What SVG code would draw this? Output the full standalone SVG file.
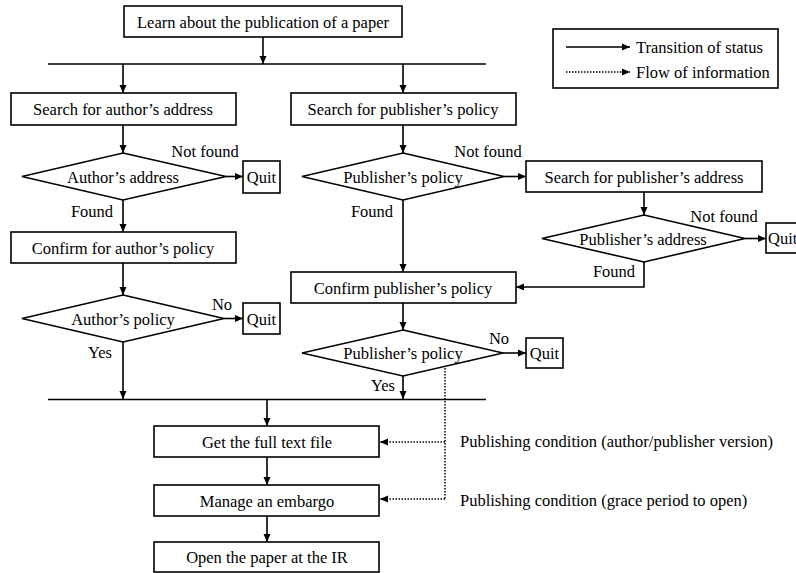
<svg xmlns="http://www.w3.org/2000/svg" width="796" height="573" viewBox="0 0 796 573" font-family="'Liberation Serif', 'Times New Roman', 'DejaVu Serif', serif">
<defs>
<marker id="ah" markerUnits="userSpaceOnUse" markerWidth="9" markerHeight="8" refX="8" refY="4" orient="auto">
<path d="M0,0.5 L8,4 L0,7.5 Z" fill="#000"/>
</marker>
<style>
text{font-family:'Liberation Serif','Times New Roman','DejaVu Serif',serif;font-size:16.5px;fill:#000}
.c{text-anchor:middle}
.box{fill:#fff;stroke:#000;stroke-width:1.6}
.ln{fill:none;stroke:#000;stroke-width:1.6}
.ar{fill:none;stroke:#000;stroke-width:1.6;marker-end:url(#ah)}
.dt{fill:none;stroke:#000;stroke-width:1.5;stroke-dasharray:1.5 1.5}
.da{fill:none;stroke:#000;stroke-width:1.5;stroke-dasharray:1.5 1.5;marker-end:url(#ah)}
</style>
</defs>
<rect width="796" height="573" fill="#fff"/>

<g id="connectors">
<path class="ar" d="M263,37 V64"/>
<path class="ln" d="M48,64 H486"/>
<path class="ar" d="M123,64 V93"/>
<path class="ar" d="M403,64 V93"/>
<path class="ar" d="M123,125 V153"/>
<path class="ar" d="M226,176.5 H243"/>
<path class="ar" d="M123,200 V232"/>
<path class="ar" d="M123,263 V295"/>
<path class="ar" d="M224,318.5 H243"/>
<path class="ar" d="M123,342 V399"/>
<path class="ln" d="M48,399.5 H486"/>
<path class="ar" d="M403,125 V153"/>
<path class="ar" d="M504,176.5 H526"/>
<path class="ar" d="M403,200 V272"/>
<path class="ar" d="M644,192 V215"/>
<path class="ar" d="M745,238.5 H766"/>
<path class="ar" d="M644,262 V287 H516"/>
<path class="ar" d="M403,303 V330"/>
<path class="ar" d="M503,353 H526"/>
<path class="ar" d="M403,376 V399"/>
<path class="ar" d="M267,400 V426"/>
<path class="ar" d="M267,457 V485"/>
<path class="ar" d="M267,516 V542"/>
<path class="dt" d="M445,368 V499"/>
<path class="da" d="M445,442 H380"/>
<path class="da" d="M445,499 H380"/>
</g>

<g id="legend">
<rect class="box" x="553" y="29" width="225" height="59"/>
<path class="ar" d="M566,47 H630"/>
<text x="636" y="53">Transition of status</text>
<path class="da" d="M566,72 H630"/>
<text x="636" y="78">Flow of information</text>
</g>

<g id="n-learn">
<rect class="box" x="124" y="6" width="278" height="31"/>
<text class="c" x="263" y="27.5">Learn about the publication of a paper</text>
</g>

<g id="n-search-author">
<rect class="box" x="11" y="93" width="225" height="32"/>
<text class="c" x="123" y="115">Search for author’s address</text>
</g>

<g id="n-search-pub-policy">
<rect class="box" x="291" y="93" width="225" height="32"/>
<text class="c" x="403" y="115">Search for publisher’s policy</text>
</g>

<g id="d-author-address">
<path class="box" d="M123,153 L226,176.5 L123,200 L22,176.5 Z"/>
<text class="c" x="123" y="182.5">Author’s address</text>
<text class="c" x="205" y="157">Not found</text>
<text class="c" x="92" y="217">Found</text>
</g>

<g id="q1">
<rect class="box" x="243" y="161" width="37" height="32"/>
<text class="c" x="261.5" y="182.5">Quit</text>
</g>

<g id="n-confirm-author">
<rect class="box" x="11" y="232" width="225" height="31"/>
<text class="c" x="123" y="253.5">Confirm for author’s policy</text>
</g>

<g id="d-author-policy">
<path class="box" d="M123,295 L224,318.5 L123,342 L22,318.5 Z"/>
<text class="c" x="123" y="324.5">Author’s policy</text>
<text class="c" x="222" y="310">No</text>
<text class="c" x="100" y="358">Yes</text>
</g>

<g id="q2">
<rect class="box" x="243" y="303" width="37" height="31"/>
<text class="c" x="261.5" y="324.5">Quit</text>
</g>

<g id="d-pub-policy-1">
<path class="box" d="M403,153 L504,176.5 L403,200 L302,176.5 Z"/>
<text class="c" x="403" y="182.5">Publisher’s policy</text>
<text class="c" x="488" y="157">Not found</text>
<text class="c" x="372" y="217">Found</text>
</g>

<g id="n-search-pub-address">
<rect class="box" x="526" y="161" width="236" height="31"/>
<text class="c" x="644" y="182.5">Search for publisher’s address</text>
</g>

<g id="d-pub-address">
<path class="box" d="M644,215 L745,238.5 L644,262 L542,238.5 Z"/>
<text class="c" x="643" y="244.5">Publisher’s address</text>
<text class="c" x="724" y="222">Not found</text>
<text class="c" x="614" y="277">Found</text>
</g>

<g id="q3">
<rect class="box" x="766" y="223" width="40" height="30"/>
<text x="768" y="244">Quit</text>
</g>

<g id="n-confirm-pub">
<rect class="box" x="291" y="272" width="225" height="31"/>
<text class="c" x="403" y="293.5">Confirm publisher’s policy</text>
</g>

<g id="d-pub-policy-2">
<path class="box" d="M403,330 L503,353 L403,376 L302,353 Z"/>
<text class="c" x="403" y="359">Publisher’s policy</text>
<text class="c" x="499" y="344">No</text>
<text class="c" x="383" y="391">Yes</text>
</g>

<g id="q4">
<rect class="box" x="526" y="338" width="37" height="30"/>
<text class="c" x="544.5" y="359">Quit</text>
</g>

<g id="n-get-full-text">
<rect class="box" x="154" y="426" width="225" height="31"/>
<text class="c" x="267" y="447.5">Get the full text file</text>
</g>

<g id="n-embargo">
<rect class="box" x="154" y="485" width="225" height="31"/>
<text class="c" x="267" y="506.5">Manage an embargo</text>
</g>

<g id="n-open">
<rect class="box" x="154" y="542" width="225" height="30"/>
<text class="c" x="267" y="563">Open the paper at the IR</text>
</g>

<g id="info-labels">
<text x="460" y="447">Publishing condition (author/publisher version)</text>
<text x="460" y="506">Publishing condition (grace period to open)</text>
</g>
</svg>
